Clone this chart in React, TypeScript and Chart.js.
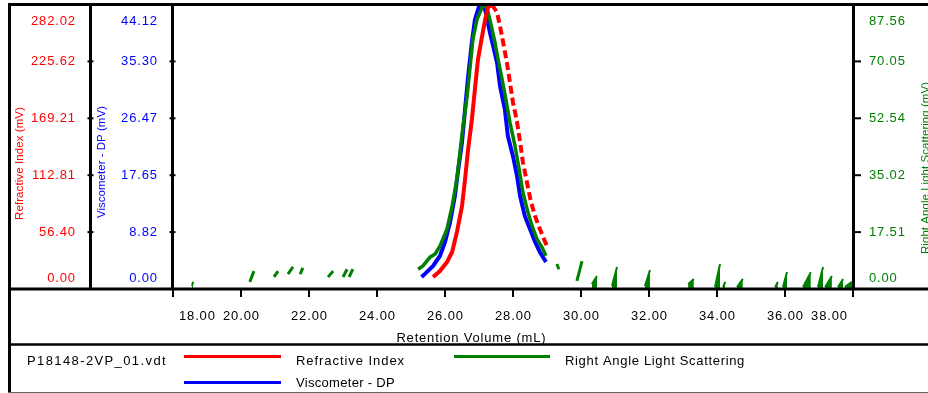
import React, { useEffect, useRef } from 'react';
import { Chart, registerables } from 'chart.js';

Chart.register(...registerables);

// ---------- data ----------
const xTicks = [18, 20, 22, 24, 26, 28, 30, 32, 34, 36, 38];
const riTicks = [0, 56.4, 112.81, 169.21, 225.62, 282.02];
const viscTicks = [0, 8.82, 17.65, 26.47, 35.3, 44.12];
const ralsTicks = [0, 17.51, 35.02, 52.54, 70.05, 87.56];

const riX = [25.65, 25.85, 26.06, 26.21, 26.35, 26.5, 26.59, 26.68, 26.79, 26.88, 26.97, 27.09, 27.18, 27.26, 27.38, 27.53, 27.62, 27.71, 27.82, 27.91, 28.0, 28.12, 28.21, 28.29, 28.41, 28.53, 28.65, 28.79, 28.91, 29.0];
const riY = [11.8, 17.8, 26.8, 36.7, 56.4, 82.1, 108.9, 138.5, 168.1, 198.0, 227.6, 250.4, 267.1, 278.9, 282.0, 274.1, 260.3, 244.5, 224.5, 204.8, 185.0, 165.3, 145.5, 125.8, 105.8, 86.0, 72.2, 59.5, 49.4, 42.6];

const viscX = [25.31, 25.41, 25.65, 25.85, 26.0, 26.15, 26.29, 26.38, 26.5, 26.59, 26.68, 26.79, 26.88, 27.0, 27.06, 27.18, 27.32, 27.53, 27.62, 27.76, 27.85, 28.0, 28.12, 28.21, 28.35, 28.5, 28.65, 28.79, 28.97];
const viscY = [1.85, 2.34, 3.57, 5.12, 7.28, 10.37, 14.38, 18.13, 22.77, 27.88, 32.96, 38.25, 41.78, 43.81, 44.12, 43.33, 39.8, 35.12, 31.41, 27.88, 23.69, 20.6, 17.47, 14.38, 11.29, 9.31, 7.28, 5.74, 4.19];

const ralsX = [25.21, 25.35, 25.56, 25.71, 25.85, 26.06, 26.21, 26.35, 26.44, 26.53, 26.65, 26.74, 26.82, 26.94, 27.09, 27.21, 27.32, 27.47, 27.56, 27.68, 27.79, 27.91, 28.06, 28.18, 28.29, 28.44, 28.56, 28.71, 28.85, 28.97];
const ralsY = [6.1, 7.1, 9.8, 10.8, 13.2, 18.5, 25.5, 33.8, 42.1, 50.1, 59.3, 68.5, 76.8, 82.9, 86.6, 87.56, 82.9, 75.9, 70.7, 64.5, 58.4, 51.3, 44.0, 36.9, 29.8, 23.6, 19.4, 15.3, 12.9, 10.2];

// baseline noise of the light scattering trace: [xStart, xEnd]
const ralsNoiseX = [
  [18.56, 18.59], [20.26, 20.38], [20.97, 21.09], [21.38, 21.53], [21.74, 21.82], [22.56, 22.71],
  [23.0, 23.12], [23.18, 23.29], [29.29, 29.35], [29.88, 30.03], [30.32, 30.47], [30.91, 31.06],
  [31.88, 32.03], [33.15, 33.32], [33.94, 34.09], [34.18, 34.24], [34.59, 34.76], [35.71, 35.79],
  [35.94, 36.06], [36.53, 36.76], [36.97, 37.12], [37.18, 37.38], [37.56, 37.71], [37.76, 37.97],
];
// [yStart, yEnd] (mV)
const ralsNoiseY = [
  [0.9, 2.2], [2.2, 5.5], [3.7, 5.5], [4.6, 6.8], [4.6, 6.5], [3.7, 5.5],
  [3.7, 6.1], [3.7, 6.1], [7.7, 6.1], [2.5, 8.6], [1.5, 4.0], [0.9, 6.8],
  [0.9, 5.8], [1.5, 3.1], [0.6, 7.7], [0.6, 2.2], [0.6, 3.1], [0.6, 2.2],
  [0.6, 5.2], [0.6, 5.2], [0.6, 6.8], [0.6, 4.0], [0.6, 3.1], [0.6, 2.2],
];

const sampleName = 'P18148-2VP_01.vdt';
const RED = '#ff0000';
const BLUE = '#0000ff';
const GREEN = '#008000';

// ---------- helpers ----------
const W = 928;
const H = 393;
const FONT = '"Liberation Sans", Arial, Helvetica, sans-serif';

function drawText(
  ctx: CanvasRenderingContext2D,
  s: string,
  x: number,
  y: number,
  size: number,
  color: string,
  align: CanvasTextAlign,
  opts: { target?: number; spacing?: number; baseline?: CanvasTextBaseline } = {}
) {
  const c: any = ctx;
  ctx.font = `${size}px ${FONT}`;
  ctx.fillStyle = color;
  ctx.textBaseline = opts.baseline || 'middle';
  let ls = opts.spacing || 0;
  if (opts.target) {
    c.letterSpacing = '0px';
    const w = ctx.measureText(s).width;
    ls = (opts.target - w) / s.length;
  }
  c.letterSpacing = ls + 'px';
  let dx = 0;
  if (align === 'center') dx = ls / 2;
  else if (align === 'right') dx = ls;
  ctx.textAlign = align;
  ctx.fillText(s, x + dx, y);
  c.letterSpacing = '0px';
}

function seg(ctx: CanvasRenderingContext2D, x1: number, y1: number, x2: number, y2: number, w: number, color = '#000') {
  ctx.strokeStyle = color;
  ctx.lineWidth = w;
  ctx.beginPath();
  ctx.moveTo(x1, y1);
  ctx.lineTo(x2, y2);
  ctx.stroke();
}

const framePlugin = {
  id: 'gpcFrame',
  afterDraw(chart: any) {
    const ctx: CanvasRenderingContext2D = chart.ctx;
    const { left, right, top, bottom } = chart.chartArea;
    const xs = chart.scales.x;
    const ri = chart.scales.yRI;
    const vi = chart.scales.yVisc;
    const ra = chart.scales.yRals;
    ctx.save();
    ctx.lineCap = 'butt';

    // frame lines
    seg(ctx, 8, top, W, top, 3);
    seg(ctx, 9.5, top - 1.5, 9.5, H, 3);
    seg(ctx, 90.5, top - 1.5, 90.5, bottom + 1, 3);
    seg(ctx, left - 0.5, top - 1.5, left - 0.5, bottom + 1, 3);
    seg(ctx, right + 0.5, top - 1.5, right + 0.5, bottom + 1, 3);
    seg(ctx, 8, bottom, W, bottom, 3);
    seg(ctx, 8, 344.5, W, 344.5, 2.5);
    seg(ctx, 8, 392.5, W, 392.5, 1, '#666');

    // y ticks
    const nY = riTicks.length;
    for (let i = 0; i < nY; i++) {
      const py = ri.getPixelForValue(riTicks[i]);
      const isFirst = i === 0;
      const isLast = i === nY - 1;
      if (!isFirst && !isLast) {
        seg(ctx, 87.5, py, 93.5, py, 2);
        seg(ctx, left - 3.5, py, left + 2.5, py, 2);
        seg(ctx, right, ra.getPixelForValue(ralsTicks[i]), right + 8, ra.getPixelForValue(ralsTicks[i]), 2);
      }
      const off = isFirst ? -10.5 : isLast ? 16.5 : 0.5;
      drawText(ctx, riTicks[i].toFixed(2), 75, py + off, 13, RED, 'right', { spacing: 0.85 });
      const pv = vi.getPixelForValue(viscTicks[i]);
      drawText(ctx, viscTicks[i].toFixed(2), 157, pv + off, 13, BLUE, 'right', { spacing: 0.85 });
      const pr = ra.getPixelForValue(ralsTicks[i]);
      drawText(ctx, ralsTicks[i].toFixed(2), 869, pr + off, 13, GREEN, 'left', { spacing: 0.85 });
    }

    // x ticks
    const nX = xTicks.length;
    for (let i = 0; i < nX; i++) {
      const px = Math.round(xs.getPixelForValue(xTicks[i]));
      seg(ctx, px, bottom, px, bottom + 8, 2);
      const label = xTicks[i].toFixed(2);
      if (i === 0) drawText(ctx, label, px + 6, 316.5, 13, '#000', 'left', { spacing: 0.85 });
      else if (i === nX - 1) drawText(ctx, label, px - 6, 316.5, 13, '#000', 'right', { spacing: 0.85 });
      else drawText(ctx, label, px, 316.5, 13, '#000', 'center', { spacing: 0.85 });
    }

    // axis titles
    drawText(ctx, 'Retention Volume (mL)', 471, 338, 13, '#000', 'center', { target: 150 });

    const rot = (s: string, x: number, y: number, color: string, target: number) => {
      ctx.save();
      ctx.translate(x, y);
      ctx.rotate(-Math.PI / 2);
      drawText(ctx, s, 0, 0, 11.5, color, 'center', { target, baseline: 'alphabetic' });
      ctx.restore();
    };
    rot('Refractive Index (mV)', 22.5, 163.5, RED, 113);
    rot('Viscometer - DP (mV)', 105, 162, BLUE, 112);
    rot('Right Angle Light Scattering (mV)', 928.5, 168, GREEN, 172);

    // legend
    drawText(ctx, sampleName, 27, 361.5, 13, '#000', 'left', { target: 140 });
    seg(ctx, 184, 356.5, 281, 356.5, 3, RED);
    drawText(ctx, 'Refractive Index', 296, 361.5, 13, '#000', 'left', { target: 109 });
    seg(ctx, 454, 356.5, 550, 356.5, 3, GREEN);
    drawText(ctx, 'Right Angle Light Scattering', 565, 361.5, 13, '#000', 'left', { target: 180 });
    seg(ctx, 184, 382.5, 281, 382.5, 3, BLUE);
    drawText(ctx, 'Viscometer - DP', 296, 383.5, 13, '#000', 'left', { target: 99 });

    ctx.restore();
  },
};

export default function App() {
  const ref = useRef<HTMLCanvasElement>(null);

  useEffect(() => {
    if (!ref.current) return;
    const riPeak = riX[riY.indexOf(Math.max(...riY))];
    const floating: any[] = [];
    const grounded: any[] = [];
    ralsNoiseX.forEach((xx, i) => {
      const target = ralsNoiseY[i][0] < 2 ? grounded : floating;
      target.push({ x: xx[0], y: ralsNoiseY[i][0] });
      target.push({ x: xx[1], y: ralsNoiseY[i][1] });
      target.push({ x: xx[1] + 0.001, y: null });
    });

    const chart = new Chart(ref.current, {
      type: 'line',
      data: {
        datasets: [
          {
            label: 'Refractive Index',
            data: riX.map((x, i) => ({ x, y: riY[i] })),
            yAxisID: 'yRI',
            borderColor: RED,
            borderWidth: 4,
            pointRadius: 0,
            tension: 0,
            order: 0,
            segment: {
              borderDash: (c: any) => (c.p0.parsed.x >= riPeak ? [8, 4] : undefined),
            },
          } as any,
          {
            label: 'Right Angle Light Scattering',
            data: ralsX.map((x, i) => ({ x, y: ralsY[i] })),
            yAxisID: 'yRals',
            borderColor: GREEN,
            borderWidth: 3.5,
            pointRadius: 0,
            tension: 0,
            order: 1,
          },
          {
            label: 'RALS noise (floating)',
            data: floating,
            yAxisID: 'yRals',
            borderColor: GREEN,
            borderWidth: 3,
            pointRadius: 0,
            spanGaps: false,
            order: 1,
          },
          {
            label: 'RALS noise (baseline)',
            data: grounded,
            yAxisID: 'yRals',
            borderColor: GREEN,
            backgroundColor: GREEN,
            fill: 'origin',
            borderWidth: 2,
            pointRadius: 0,
            spanGaps: false,
            order: 1,
          },
          {
            label: 'Viscometer - DP',
            data: viscX.map((x, i) => ({ x, y: viscY[i] })),
            yAxisID: 'yVisc',
            borderColor: BLUE,
            borderWidth: 4,
            pointRadius: 0,
            tension: 0,
            order: 2,
          },
        ],
      },
      options: {
        responsive: false,
        animation: false,
        devicePixelRatio: 1,
        layout: { padding: { left: 173, right: W - 853, top: 4.5, bottom: H - 289 } },
        plugins: { legend: { display: false }, tooltip: { enabled: false }, title: { display: false } },
        events: [],
        scales: {
          x: { type: 'linear', min: 18, max: 38, display: false },
          yRI: { type: 'linear', position: 'left', min: 0, max: 282.02, display: false },
          yVisc: { type: 'linear', position: 'left', min: 0, max: 44.12, display: false },
          yRals: { type: 'linear', position: 'right', min: 0, max: 87.56, display: false },
        },
      },
      plugins: [framePlugin],
    });
    return () => chart.destroy();
  }, []);

  return (
    <div style={{ position: 'fixed', left: 0, top: 0, width: W, height: H, background: '#fff' }}>
      <canvas ref={ref} width={W} height={H} style={{ display: 'block', width: W, height: H }} />
    </div>
  );
}
